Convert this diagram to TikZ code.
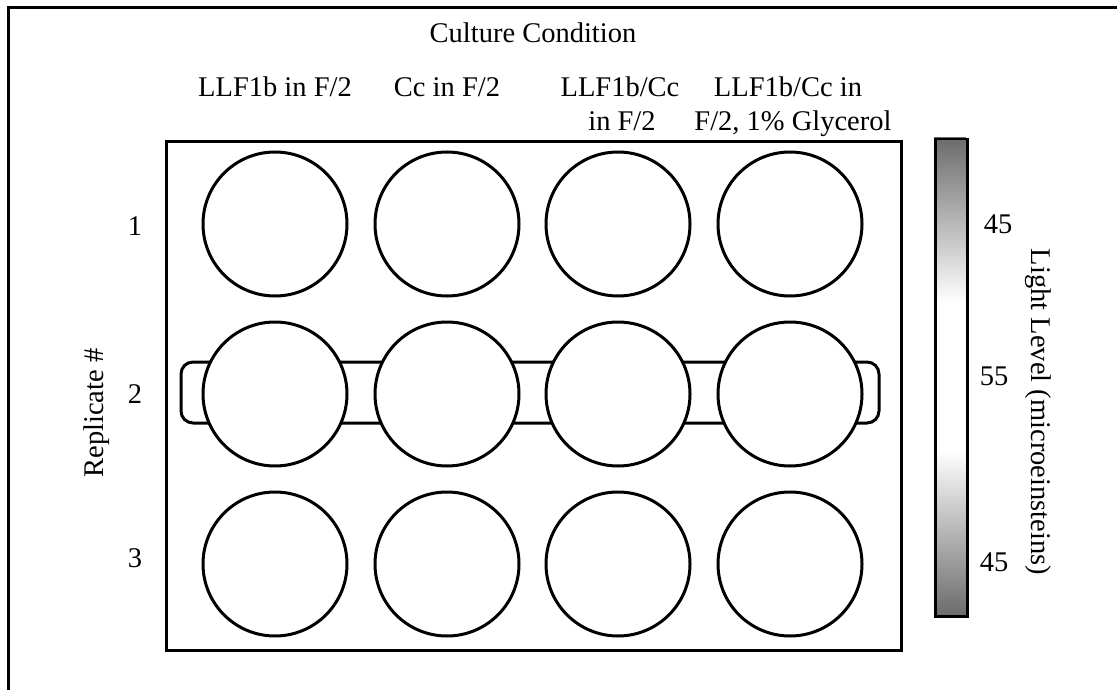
\documentclass[tikz,border=0pt]{standalone}
\usepackage{fontspec}
\setmainfont{Liberation Serif}
\definecolor{bargray}{RGB}{108,108,108}
\begin{document}
\begin{tikzpicture}[x=1pt,y=-1pt,
  line/.style={line width=3pt,black},
  well/.style={circle,draw,line width=3pt,fill=white,minimum size=144pt,inner sep=0pt},
  lbl/.style={font=\fontsize{28.5}{34}\selectfont,inner sep=0pt,align=center},
]
\useasboundingbox (0,0) rectangle (1117,690);
% outer frame
\coordinate (fbl) at (8.5,692);
\coordinate (ftl) at (8.5,7.5);
\coordinate (ftr) at (1119,7.5);
\draw[line,line width=2.5pt] (fbl) -- (ftl) -- (ftr);
% plate
\node[draw,line width=3pt,minimum width=735pt,minimum height=509pt,inner sep=0pt,anchor=north west] (plate) at (165,140) {};
% handle
\draw[line,rounded corners=12pt] (181,362) rectangle (879,423);
% wells
\foreach \c/\x in {1/275,2/447,3/618,4/790}{
  \foreach \r/\y in {1/224,2/394,3/564}{
    \node[well] (w\r\c) at (\x,\y) {};
  }
}
% color bar
\shade[top color=bargray,bottom color=white] (934,138) rectangle (966,303);
\fill[white] (934,302) rectangle (966,451);
\shade[top color=white,bottom color=bargray] (934,450) rectangle (966,615);
\node[draw,line width=2.5pt,minimum width=32pt,minimum height=477pt,inner sep=0pt,anchor=north west] (bar) at (934,138) {};
% labels
\node[lbl] (title) at (533,33) {Culture Condition};
\node[lbl,anchor=base] (c1) at (275,97) {LLF1b in F/2};
\node[lbl,anchor=base] (c2) at (447,97) {Cc in F/2};
\node[lbl,anchor=base] (c3a) at (620,97) {LLF1b/Cc};
\node[lbl,anchor=base] (c3b) at (622,131) {in F/2};
\node[lbl,anchor=base] (c4a) at (788,97) {LLF1b/Cc in};
\node[lbl,anchor=base] (c4b) at (793,131) {F/2, 1\% Glycerol};
\node[lbl] (r1) at (135,226) {1};
\node[lbl] (r2) at (135,394) {2};
\node[lbl] (r3) at (135,558) {3};
\node[lbl,rotate=90] (rep) at (97,413) {Replicate \#};
\node[lbl] (v1) at (998,224) {45};
\node[lbl] (v2) at (994,376) {55};
\node[lbl] (v3) at (994,562) {45};
\node[lbl,rotate=-90] (ll) at (1038,412) {Light Level (microeinsteins)};
\end{tikzpicture}
\end{document}
